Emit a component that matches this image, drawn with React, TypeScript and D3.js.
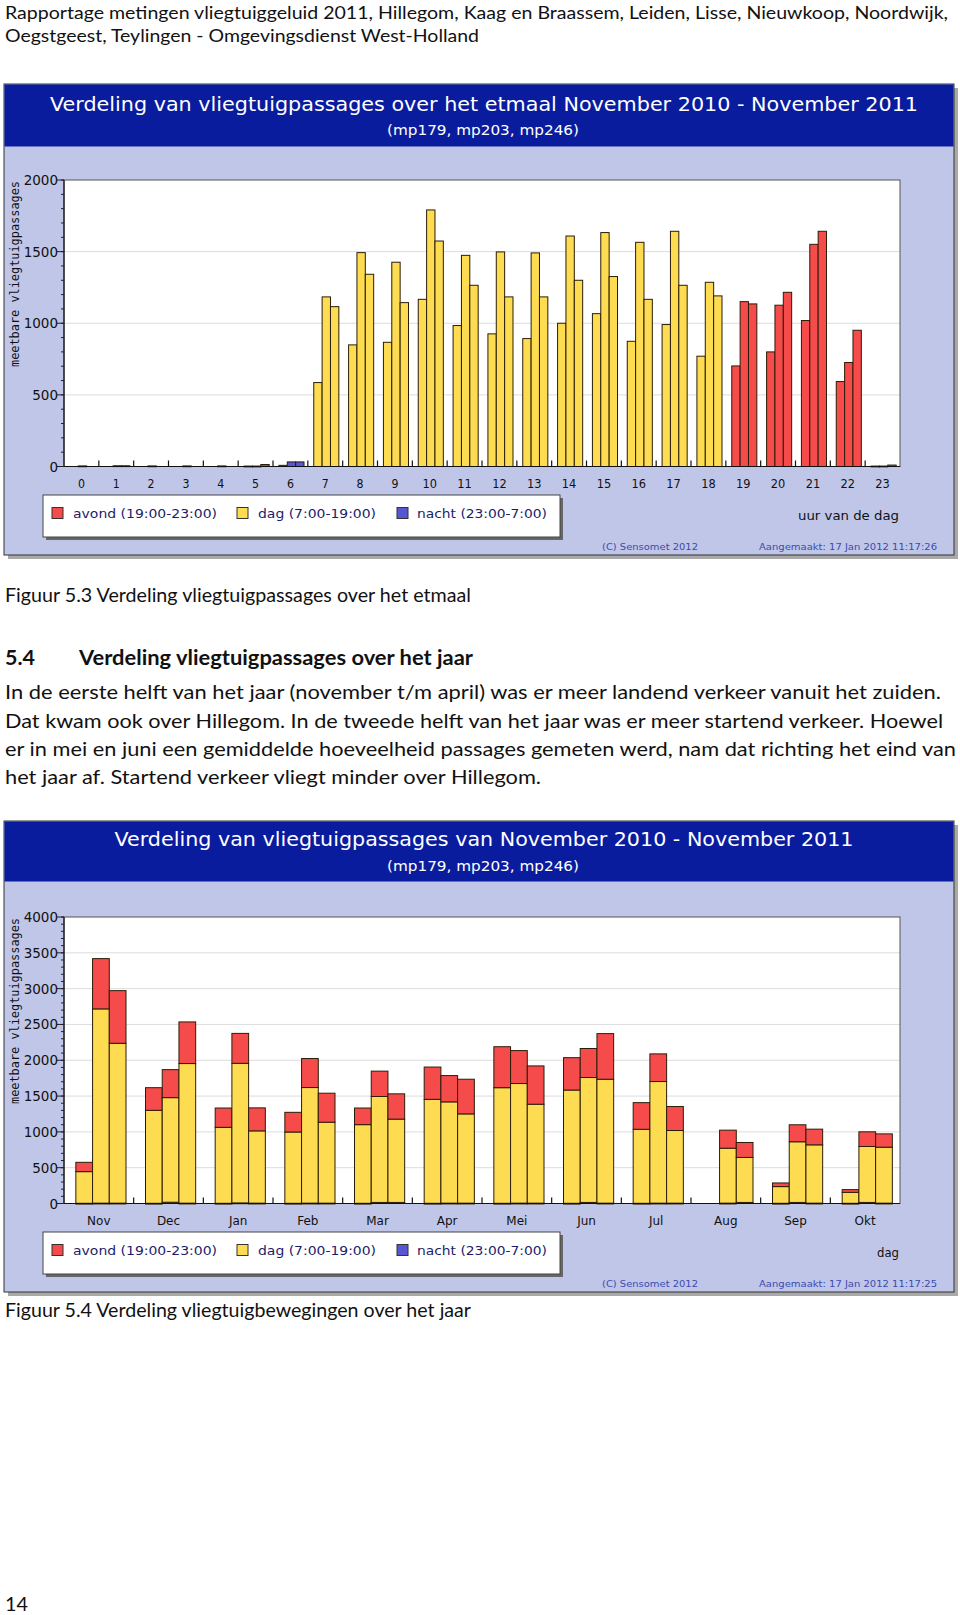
import React from "react";
import * as d3 from "d3";

// ---------- Data: chart 1 (hour of day) ----------
const hours = ["0","1","2","3","4","5","6","7","8","9","10","11","12","13","14","15","16","17","18","19","20","21","22","23"];
const hourPeriod = ["nacht","nacht","nacht","nacht","nacht","nacht","nacht","dag","dag","dag","dag","dag","dag","dag","dag","dag","dag","dag","dag","avond","avond","avond","avond","nacht"];
const hourMp179 = [0,0,0,0,0,3,8,586,849,867,1167,984,926,893,1000,1067,874,991,770,702,800,1019,593,3];
const hourMp203 = [4,5,4,4,4,3,32,1184,1493,1426,1791,1474,1498,1491,1609,1633,1565,1642,1286,1151,1126,1551,726,3];
const hourMp246 = [0,5,0,0,0,14,32,1116,1342,1144,1574,1265,1184,1184,1300,1326,1167,1265,1191,1135,1216,1642,951,10];

// ---------- Data: chart 2 (month) ----------
const months = ["Nov","Dec","Jan","Feb","Mar","Apr","Mei","Jun","Jul","Aug","Sep","Okt"];
const nachtMp179 = [3,3,3,3,3,3,3,3,3,0,3,3];
const nachtMp203 = [5,18,8,5,15,5,5,15,5,5,15,15];
const nachtMp246 = [5,5,5,5,15,5,5,5,5,15,5,5];
const dagMp179 = [442,1298,1060,995,1098,1451,1614,1581,1033,0,233,153];
const dagMp203 = [2712,1460,1949,1614,1479,1414,1670,1744,1698,767,847,781];
const dagMp246 = [2232,1949,1009,1130,1163,1246,1381,1730,1014,628,814,781];
const avondMp179 = [130,316,270,275,232,451,572,452,372,0,51,38];
const avondMp203 = [702,391,418,405,354,367,460,405,386,252,237,205];
const avondMp246 = [735,581,321,405,353,484,535,637,335,209,219,186];

const legendItems = [
  { key: "avond", label: "avond (19:00-23:00)", sx: 52, tx: 73, tw: 144 },
  { key: "dag", label: "dag (7:00-19:00)", sx: 237, tx: 258, tw: 118 },
  { key: "nacht", label: "nacht (23:00-7:00)", sx: 397, tx: 417, tw: 130 },
];

const COLORS: Record<string, string> = {
  avond: "#f54b4b",
  dag: "#fddc52",
  nacht: "#5757d4",
};

const FRAME_BG = "#c0c6e8";
const HEADER_BG = "#0a1c9e";
const SANS = "'DejaVu Sans', Verdana, sans-serif";

type Seg = { period: string; value: number };

function Panel(props: {
  top: number;
  title: string;
  titleW: number;
  titleY: number;
  subY: number;
  yMax: number;
  gridStep: number;
  minorStep: number;
  cats: string[];
  stacks: Seg[][][];
  xTitle: string;
  xTitleW: number;
  xLabelW: (c: string) => number | undefined;
  stamp: string;
  headerH: number;
}) {
  const { top: T, cats, stacks } = props;
  const frameL = 4, frameR = 954;
  const frameB = T + 471;
  const plotL = 64, plotR = 900;
  const plotT = T + 96, plotB = T + 382.5;
  const y = d3.scaleLinear().domain([0, props.yMax]).range([plotB, plotT]);
  const xg = d3.scaleBand<string>().domain(cats).range([plotL, plotR]);
  const bw = xg.bandwidth();
  const xb = d3.scaleBand<string>().domain(["0", "1", "2"]).range([bw * 0.17, bw * 0.89]);
  const majors = d3.range(0, props.yMax + 1, props.gridStep);
  const minors = d3.range(0, props.yMax + 1, props.minorStep);
  const legT = T + 411, legB = T + 453;
  return (
    <g>
      {/* frame shadow */}
      <rect x={frameL + 4} y={T + 4} width={frameR - frameL} height={frameB - T} fill="#a9a9a9" />
      <rect x={frameL} y={T} width={frameR - frameL} height={frameB - T} fill={FRAME_BG} stroke="#333" strokeWidth={1} />
      <rect x={frameL + 0.5} y={T + 0.5} width={frameR - frameL - 1} height={props.headerH} fill={HEADER_BG} />
      <text x={484} y={T + props.titleY} fill="#fff" fontFamily={SANS} fontSize={19} textAnchor="middle" textLength={props.titleW} lengthAdjust="spacingAndGlyphs">{props.title}</text>
      <text x={483} y={T + props.subY} fill="#fff" fontFamily={SANS} fontSize={14} textAnchor="middle" textLength={192} lengthAdjust="spacingAndGlyphs">(mp179, mp203, mp246)</text>

      {/* plot area */}
      <rect x={plotL} y={plotT} width={plotR - plotL} height={plotB - plotT} fill="#fff" />
      {majors.filter((v) => v > 0 && v < props.yMax).map((v) => (
        <line key={"g" + v} x1={plotL} x2={plotR} y1={y(v)} y2={y(v)} stroke="#dcdcdc" strokeWidth={1} />
      ))}

      {/* bars */}
      {cats.map((c, i) => (
        <g key={c} transform={`translate(${xg(c)},0)`}>
          {stacks[i].map((segs, j) => {
            let acc = 0;
            return segs.map((s, k) => {
              if (s.value <= 0) return null;
              const y0 = y(acc);
              acc += s.value;
              const y1 = y(acc);
              return (
                <rect key={j + "-" + k} x={xb(String(j))} y={y1} width={xb.bandwidth()} height={Math.max(0.8, y0 - y1)}
                  fill={COLORS[s.period]} stroke="#2b1d08" strokeWidth={1} />
              );
            });
          })}
        </g>
      ))}

      {/* plot border */}
      <rect x={plotL} y={plotT} width={plotR - plotL} height={plotB - plotT} fill="none" stroke="#555" strokeWidth={1} />
      <line x1={plotL} x2={plotR} y1={plotB} y2={plotB} stroke="#111" strokeWidth={1.2} />
      <line x1={plotL} x2={plotL} y1={plotT} y2={plotB} stroke="#111" strokeWidth={1.2} />

      {/* group ticks */}
      {cats.slice(1).map((c) => (
        <line key={"t" + c} x1={xg(c)} x2={xg(c)} y1={plotB} y2={plotB - 6} stroke="#111" strokeWidth={1.2} />
      ))}

      {/* y ticks */}
      {minors.map((v) => (
        <line key={"m" + v} x1={plotL - 3} x2={plotL} y1={y(v)} y2={y(v)} stroke="#222" strokeWidth={1} />
      ))}
      {majors.map((v) => (
        <g key={"M" + v}>
          <line x1={plotL - 7} x2={plotL} y1={y(v)} y2={y(v)} stroke="#222" strokeWidth={1} />
          <text x={plotL - 6} y={y(v) + 5} fontFamily={SANS} fontSize={13.5} textAnchor="end" fill="#111">{v}</text>
        </g>
      ))}

      {/* x labels */}
      {cats.map((c) => (
        <text key={"l" + c} x={(xg(c) as number) + bw / 2} y={T + 404} fontFamily={SANS} fontSize={12} textAnchor="middle" fill="#111"
          textLength={props.xLabelW(c)} lengthAdjust={props.xLabelW(c) ? "spacingAndGlyphs" : undefined}>{c}</text>
      ))}

      {/* y axis title */}
      <text transform={`translate(19,${T + 190}) rotate(-90)`} fontFamily="'DejaVu Sans Mono', monospace" fontSize={12.5} textAnchor="middle" fill="#111"
        textLength={186} lengthAdjust="spacingAndGlyphs">meetbare vliegtuigpassages</text>

      {/* legend */}
      <rect x={46} y={legT + 3} width={517} height={legB - legT} fill="#666" />
      <rect x={43} y={legT} width={517} height={legB - legT} fill="#fff" stroke="#444" strokeWidth={1} />
      {legendItems.map((it) => (
        <g key={it.key}>
          <rect x={it.sx} y={T + 423.5} width={11} height={11} fill={COLORS[it.key]} stroke="#333" strokeWidth={1} />
          <text x={it.tx} y={T + 433.5} fontFamily={SANS} fontSize={13} fill="#1c1c6a" textLength={it.tw} lengthAdjust="spacingAndGlyphs">{it.label}</text>
        </g>
      ))}
      <text x={899} y={T + 436} fontFamily={SANS} fontSize={12.5} fill="#111" textAnchor="end" textLength={props.xTitleW} lengthAdjust="spacingAndGlyphs">{props.xTitle}</text>

      {/* credits */}
      <text x={602} y={T + 466} fontFamily={SANS} fontSize={9.5} fill="#3b4bb0" textLength={96} lengthAdjust="spacingAndGlyphs">(C) Sensomet 2012</text>
      <text x={759} y={T + 466} fontFamily={SANS} fontSize={9.5} fill="#3b4bb0" textLength={178} lengthAdjust="spacingAndGlyphs">{props.stamp}</text>
    </g>
  );
}

const BODY = "Lato, 'Open Sans', sans-serif";

function BodyText(p: { x: number; y: number; w: number; children: string; bold?: boolean; size?: number }) {
  return (
    <text x={p.x} y={p.y} fontFamily={BODY} fontSize={p.size ?? 20} fontWeight={p.bold ? 700 : 400} fill="#111"
      textLength={p.w} lengthAdjust="spacingAndGlyphs">{p.children}</text>
  );
}

export default function App() {
  const hourStacks: Seg[][][] = hours.map((h, i) => [
    [{ period: hourPeriod[i], value: hourMp179[i] }],
    [{ period: hourPeriod[i], value: hourMp203[i] }],
    [{ period: hourPeriod[i], value: hourMp246[i] }],
  ]);
  const monthStacks: Seg[][][] = months.map((m, i) => [
    [{ period: "nacht", value: nachtMp179[i] }, { period: "dag", value: dagMp179[i] }, { period: "avond", value: avondMp179[i] }],
    [{ period: "nacht", value: nachtMp203[i] }, { period: "dag", value: dagMp203[i] }, { period: "avond", value: avondMp203[i] }],
    [{ period: "nacht", value: nachtMp246[i] }, { period: "dag", value: dagMp246[i] }, { period: "avond", value: avondMp246[i] }],
  ]);

  return (
    <svg width={960} height={1615} viewBox="0 0 960 1615"
      style={{ position: "absolute", left: 0, top: 0, display: "block", background: "#fff" }}>
      <rect x={0} y={0} width={960} height={1615} fill="#fff" />
      <BodyText x={5} y={18.5} w={943} size={18}>Rapportage metingen vliegtuiggeluid 2011, Hillegom, Kaag en Braassem, Leiden, Lisse, Nieuwkoop, Noordwijk,</BodyText>
      <BodyText x={5} y={41.5} w={474} size={18}>Oegstgeest, Teylingen - Omgevingsdienst West-Holland</BodyText>

      <Panel top={84} title="Verdeling van vliegtuigpassages over het etmaal November 2010 - November 2011" titleW={868}
        titleY={27} subY={51} headerH={62} yMax={2000} gridStep={500} minorStep={100} cats={hours} stacks={hourStacks}
        xTitle="uur van de dag" xTitleW={101} xLabelW={(c) => (c.length > 1 ? 14.5 : 7)} stamp="Aangemaakt: 17 Jan 2012 11:17:26" />

      <BodyText x={5} y={601.5} w={466}>Figuur 5.3 Verdeling vliegtuigpassages over het etmaal</BodyText>
      <BodyText x={5} y={665} w={30} bold>5.4</BodyText>
      <BodyText x={79} y={665} w={394} bold>Verdeling vliegtuigpassages over het jaar</BodyText>
      <BodyText x={5} y={699} w={936}>In de eerste helft van het jaar (november t/m april) was er meer landend verkeer vanuit het zuiden.</BodyText>
      <BodyText x={5} y={727.5} w={938}>Dat kwam ook over Hillegom. In de tweede helft van het jaar was er meer startend verkeer. Hoewel</BodyText>
      <BodyText x={5} y={755.5} w={951}>er in mei en juni een gemiddelde hoeveelheid passages gemeten werd, nam dat richting het eind van</BodyText>
      <BodyText x={5} y={783.5} w={536}>het jaar af. Startend verkeer vliegt minder over Hillegom.</BodyText>

      <Panel top={821} title="Verdeling van vliegtuigpassages van November 2010 - November 2011" titleW={739}
        titleY={25} subY={50} headerH={60} yMax={4000} gridStep={500} minorStep={100} cats={months} stacks={monthStacks}
        xTitle="dag" xTitleW={22} xLabelW={() => undefined} stamp="Aangemaakt: 17 Jan 2012 11:17:25" />

      <BodyText x={5} y={1317} w={466}>Figuur 5.4 Verdeling vliegtuigbewegingen over het jaar</BodyText>
      <BodyText x={5} y={1611} w={23}>14</BodyText>
    </svg>
  );
}
